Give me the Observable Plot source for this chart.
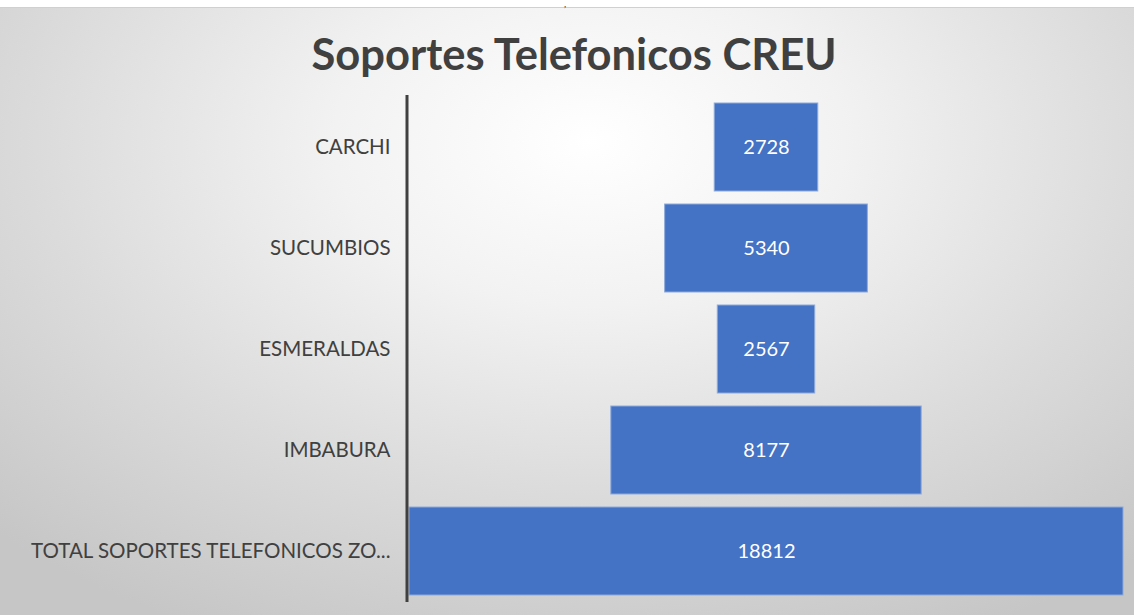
<!DOCTYPE html>
<html>
<head>
<meta charset="utf-8">
<script src="https://cdn.jsdelivr.net/npm/d3@7"></script>
<script src="https://cdn.jsdelivr.net/npm/@observablehq/plot@0.6"></script>
<style>
  html, body { margin: 0; padding: 0; background: #fff; }
  #wrap { position: relative; width: 1134px; height: 615px; overflow: hidden; }
  #topstrip { position: absolute; left: 0; top: 0; width: 1134px; height: 7px; background: #fff; border-bottom: 1px solid #d0d0d0; }
  #comma { position: absolute; left: 564px; top: -1px; font: 9px "Liberation Serif"; line-height: 11px; color: #333; z-index: 3; }
  #panel { position: absolute; left: 0; top: 8px; width: 1134px; height: 607px;
    background: radial-gradient(ellipse 75% 90% at 52% 22%, #ffffff 0%, #f2f2f2 30%, #dbdbdb 65%, #c6c6c6 100%); }
  #title { position: absolute; left: 7px; top: 27px; width: 1134px; text-align: center;
    font: bold 43.5px Lato, sans-serif; color: #404040; }
  #chart { position: absolute; left: 0; top: 0; }
</style>
</head>
<body>
<div id="wrap">
  <div id="panel"></div>
  <div id="topstrip"></div>
  <div id="title">Soportes Telefonicos CREU</div>
  <div id="chart"></div>
  <div id="comma">,</div>
</div>
<script>
const categories = ["CARCHI", "SUCUMBIOS", "ESMERALDAS", "IMBABURA", "TOTAL SOPORTES TELEFONICOS ZO..."];
const values = [2728, 5340, 2567, 8177, 18812];

const data = categories.map((c, i) => ({ category: c, value: values[i] }));
const half = d3.max(values) / 2;

const chart = Plot.plot({
  width: 1134,
  height: 615,
  marginLeft: 409,
  marginRight: 11,
  marginTop: 95,
  marginBottom: 13,
  style: { background: "transparent", fontFamily: "Lato, sans-serif", overflow: "visible" },
  x: { domain: [-half, half], axis: null },
  y: { domain: categories, paddingInner: 0.13, paddingOuter: 0.065, label: null },
  marks: [
    Plot.axisY({ tickSize: 0, tickPadding: 19, fontSize: 20.5, color: "#404040", label: null }),
    Plot.barX(data, { y: "category", x1: d => -d.value / 2, x2: d => d.value / 2, fill: "#4472c4", stroke: "#8eaadb", strokeWidth: 1 }),
    Plot.text(data, { y: "category", x: 0, text: d => String(d.value), fill: "#ffffff", fontSize: 20 }),
    Plot.ruleX([-half], { stroke: "#404040", strokeWidth: 3, dx: -2.5 })
  ]
});
document.getElementById("chart").appendChild(chart);
</script>
</body>
</html>
